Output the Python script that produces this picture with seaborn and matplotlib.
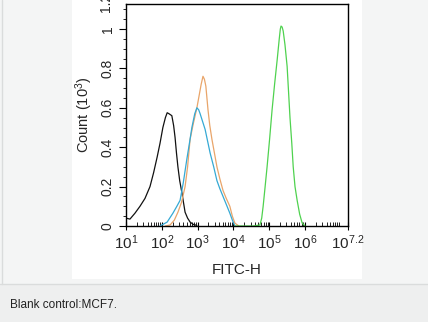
import numpy as np
import pandas as pd
import seaborn as sns
import matplotlib
matplotlib.use("Agg")
import matplotlib.pyplot as plt
from matplotlib.ticker import FixedLocator, FixedFormatter, LogLocator, MultipleLocator, NullFormatter
from matplotlib.patches import Rectangle
from matplotlib.lines import Line2D

# ---- data (log10 of FITC-H, counts in 10^3) ----
black_log = [1.00, 1.11, 1.25, 1.39, 1.53, 1.67, 1.77, 1.87, 1.95, 2.03, 2.10, 2.15, 2.20, 2.28, 2.33, 2.37, 2.41, 2.45, 2.50, 2.56, 2.65, 2.72, 2.79, 2.88, 2.98]
black_cnt = [0.040, 0.035, 0.065, 0.100, 0.140, 0.200, 0.270, 0.350, 0.420, 0.500, 0.550, 0.575, 0.570, 0.560, 0.510, 0.450, 0.370, 0.300, 0.230, 0.170, 0.070, 0.040, 0.020, 0.008, 0.003]

orange_log = [2.10, 2.23, 2.35, 2.45, 2.55, 2.65, 2.72, 2.79, 2.88, 2.98, 3.05, 3.10, 3.15, 3.19, 3.23, 3.29, 3.34, 3.40, 3.47, 3.54, 3.62, 3.71, 3.80, 3.90, 3.97, 4.04, 4.15]
orange_cnt = [0.000, 0.005, 0.030, 0.070, 0.120, 0.200, 0.300, 0.440, 0.520, 0.600, 0.670, 0.720, 0.760, 0.745, 0.710, 0.590, 0.510, 0.440, 0.370, 0.300, 0.240, 0.180, 0.140, 0.100, 0.050, 0.015, 0.000]

blue_log = [1.95, 2.15, 2.31, 2.42, 2.51, 2.60, 2.70, 2.78, 2.84, 2.92, 2.98, 3.03, 3.07, 3.14, 3.21, 3.28, 3.35, 3.45, 3.54, 3.62, 3.71, 3.80, 3.90, 3.97, 4.04]
blue_cnt = [0.000, 0.020, 0.065, 0.100, 0.130, 0.220, 0.340, 0.430, 0.500, 0.570, 0.600, 0.590, 0.570, 0.530, 0.490, 0.430, 0.370, 0.300, 0.230, 0.190, 0.150, 0.110, 0.065, 0.030, 0.000]

green_log = [4.04, 4.30, 4.55, 4.74, 4.79, 4.83, 4.88, 4.94, 5.01, 5.08, 5.15, 5.22, 5.28, 5.31, 5.33, 5.36, 5.39, 5.44, 5.50, 5.54, 5.58, 5.63, 5.67, 5.72, 5.78, 5.85, 5.92, 6.00]
green_cnt = [0.000, 0.000, 0.000, 0.005, 0.040, 0.100, 0.190, 0.300, 0.440, 0.590, 0.720, 0.840, 0.950, 1.000, 1.015, 1.010, 0.990, 0.920, 0.810, 0.680, 0.550, 0.420, 0.300, 0.200, 0.130, 0.060, 0.015, 0.000]

series_names = ["Blank", "Isotype", "Antibody A", "Antibody B"]
series_colors = ["#111111", "#E9A56A", "#35A9D4", "#4FD24F"]

x_tick_exp = [1, 2, 3, 4, 5, 6, 7.2]
x_tick_labels = ["$10^{1}$", "$10^{2}$", "$10^{3}$", "$10^{4}$", "$10^{5}$", "$10^{6}$", "$10^{7.2}$"]
y_ticks = [0, 0.2, 0.4, 0.6, 0.8, 1.0]
y_tick_labels = ["0", "0.2", "0.4", "0.6", "0.8", "1"]
y_top_label = "1.2"

frames = []
for name, lx, cy in zip(series_names,
                        [black_log, orange_log, blue_log, green_log],
                        [black_cnt, orange_cnt, blue_cnt, green_cnt]):
    frames.append(pd.DataFrame({"FITC-H": np.power(10.0, lx), "Count": cy, "series": name}))
df = pd.concat(frames, ignore_index=True)

sns.set_theme(style="white")
plt.rcParams["font.family"] = ["Liberation Sans", "DejaVu Sans"]
plt.rcParams["mathtext.fontset"] = "custom"
plt.rcParams["mathtext.rm"] = "Liberation Sans"
plt.rcParams["mathtext.it"] = "Liberation Sans"

W, H = 428, 322
fig = plt.figure(figsize=(W / 100, H / 100), dpi=100)
fig.patch.set_facecolor("#F4F5F5")

# white image box and caption area (drawn beneath the axes)
fig.patches.append(Rectangle((72 / W, 1 - 279 / H), (362 - 72) / W, 279 / H,
                             transform=fig.transFigure, facecolor="white", edgecolor="none", zorder=-5))
fig.patches.append(Rectangle((0, 0), 1, 1 - 284 / H, transform=fig.transFigure,
                             facecolor="#EEEFEF", edgecolor="none", zorder=-5))
fig.lines.append(Line2D([0, 1], [1 - 284 / H, 1 - 284 / H], transform=fig.transFigure,
                        color="#DADCDC", lw=1.0, zorder=-4))
fig.lines.append(Line2D([1.5 / W, 1.5 / W], [1 - 284 / H, 1], transform=fig.transFigure,
                        color="#DADCDC", lw=1.0, zorder=-4))

ax = fig.add_axes([126 / W, 1 - 226 / H, (348 - 126) / W, (226 - 4) / H])
ax.set_facecolor("white")
ax.set_zorder(2)

sns.lineplot(data=df, x="FITC-H", y="Count", hue="series", palette=series_colors,
             hue_order=series_names, sort=False, estimator=None, linewidth=0.9,
             legend=False, ax=ax)

ax.set_xscale("log")
ax.set_xlim(10 ** 1, 10 ** 7.2)
ax.set_ylim(0, 1.127)

ax.xaxis.set_major_locator(FixedLocator([10 ** e for e in x_tick_exp]))
ax.xaxis.set_major_formatter(FixedFormatter(x_tick_labels))
ax.xaxis.set_minor_locator(LogLocator(base=10, subs=np.arange(2, 10), numticks=20))
ax.xaxis.set_minor_formatter(NullFormatter())

ax.yaxis.set_major_locator(FixedLocator(y_ticks))
ax.yaxis.set_major_formatter(FixedFormatter(y_tick_labels))
ax.yaxis.set_minor_locator(MultipleLocator(0.05))

ax.tick_params(axis="x", which="major", direction="inout", length=6, width=0.8,
               color="black", labelsize=11, pad=2, bottom=True)
ax.tick_params(axis="x", which="minor", direction="in", length=3, width=0.6,
               color="black", bottom=True)
ax.tick_params(axis="y", which="major", direction="out", length=5, width=0.8,
               color="black", labelsize=10, pad=3, left=True)
ax.tick_params(axis="y", which="minor", direction="out", length=2.5, width=0.6,
               color="black", left=True)
for lab in ax.get_yticklabels():
    lab.set_rotation(90)
    lab.set_va("center")

# partly visible top label (1.2), cut off by the image edge as in the source
fig.text(106 / W, 1 - 2 / H, y_top_label, rotation=90, ha="center", va="center",
         fontsize=10, color="#262626")

for sp in ax.spines.values():
    sp.set_visible(True)
    sp.set_color("black")
    sp.set_linewidth(1.0)

ax.set_xlabel("FITC-H", fontsize=11, labelpad=8)
ax.set_ylabel("Count (10$^{3}$)", fontsize=10.5, labelpad=4)

fig.text(10 / W, 1 - 305 / H, "Blank control:MCF7.", fontsize=8.5, color="#222222",
         ha="left", va="center")

fig.savefig("out.png", dpi=100, facecolor=fig.get_facecolor())
